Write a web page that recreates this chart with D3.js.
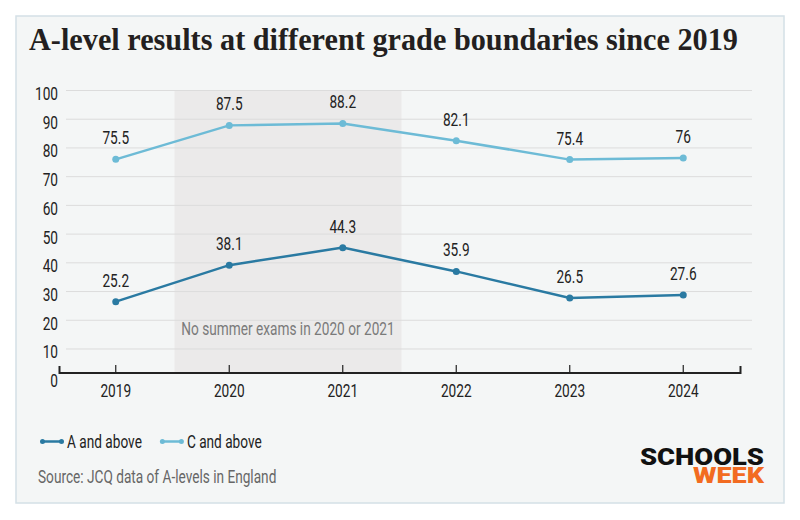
<!DOCTYPE html>
<html>
<head>
<meta charset="utf-8">
<script src="https://cdn.jsdelivr.net/npm/d3@7"></script>
<style>
  html, body { margin: 0; padding: 0; background: #fff; }
  svg text { font-family: Roboto, "DejaVu Sans", sans-serif; }
</style>
</head>
<body>
<div id="chart"></div>
<script>
// A-level results, % of entries at each grade boundary
const years = ['2019', '2020', '2021', '2022', '2023', '2024'];
const aAndAbove = [25.2, 38.1, 44.3, 35.9, 26.5, 27.6];
const cAndAbove = [75.5, 87.5, 88.2, 82.1, 75.4, 76];
const yTicks = [0, 10, 20, 30, 40, 50, 60, 70, 80, 90, 100];
const shadedYears = ['2020', '2021'];

const W = 800, H = 520;
const C_A = '#2a7aa2', C_C = '#6dbbd6';
const FS = '17.5px';
const NARROW = 0.78; // squeeze Roboto to look like the condensed face of the original

const svg = d3.select('#chart').append('svg')
  .attr('width', W).attr('height', H)
  .attr('viewBox', `0 0 ${W} ${H}`);

// panel
svg.append('rect')
  .attr('x', 16).attr('y', 16).attr('width', 768).attr('height', 487)
  .attr('fill', '#f4f6f6').attr('stroke', '#d4e0e6').attr('stroke-width', 1.5);

svg.append('text')
  .attr('x', 29).attr('y', 50)
  .style('font-family', '"Liberation Serif", "DejaVu Serif", serif')
  .style('font-weight', 700).style('font-size', '31px')
  .attr('fill', '#231f20')
  .attr('textLength', 709).attr('lengthAdjust', 'spacingAndGlyphs')
  .text('A-level results at different grade boundaries since 2019');

// scales: gridlines sit a few px lower than the plotted series in the original
const x = d3.scalePoint().domain(years).range([59, 740]).padding(0.5);
const step = x.step();
const yGrid = d3.scaleLinear().domain([0, 100]).range([377.7, 90.5]);
const y = d3.scaleLinear().domain([0, 100]).range([373, 90]);
const axisY = 373;

// shaded "no exams" band
const sx0 = x(shadedYears[0]) - step / 2 + 2;
const sx1 = x(shadedYears[1]) + step / 2 + 2;
svg.append('rect')
  .attr('x', sx0).attr('y', yGrid(100))
  .attr('width', sx1 - sx0).attr('height', axisY - yGrid(100))
  .attr('fill', '#ebeaea');

// gridlines
svg.append('g').selectAll('line').data(yTicks.filter(d => d > 0)).enter().append('line')
  .attr('x1', 66).attr('x2', 752)
  .attr('y1', d => yGrid(d)).attr('y2', d => yGrid(d))
  .attr('stroke', '#dcdcdc').attr('stroke-width', 1);

// y labels
svg.append('g').selectAll('text').data(yTicks).enter().append('text')
  .attr('class', 'narrow')
  .attr('x', 58).attr('y', d => yGrid(d) + 9.5)
  .attr('text-anchor', 'end')
  .attr('fill', '#222').style('font-size', FS)
  .text(d => d);

svg.append('text')
  .attr('class', 'narrow')
  .attr('x', (sx0 + sx1) / 2).attr('y', 335)
  .attr('text-anchor', 'middle')
  .attr('fill', '#7a7a7a').style('font-size', FS)
  .text('No summer exams in 2020 or 2021');

// x axis
const gx = svg.append('g').attr('transform', `translate(0,${axisY})`);
gx.append('path')
  .attr('d', `M59.5,-7V0H740.5V-7`)
  .attr('fill', 'none').attr('stroke', '#222').attr('stroke-width', 2);
gx.selectAll('line.tick').data(years).enter().append('line')
  .attr('class', 'tick')
  .attr('x1', d => x(d)).attr('x2', d => x(d))
  .attr('y1', -8).attr('y2', 0)
  .attr('stroke', '#222').attr('stroke-width', 1.2);
gx.selectAll('text').data(years).enter().append('text')
  .attr('class', 'narrow')
  .attr('x', d => x(d)).attr('y', 24)
  .attr('text-anchor', 'middle')
  .attr('fill', '#222').style('font-size', FS)
  .text(d => d);

// series
const series = [
  { name: 'A and above', values: aAndAbove, color: C_A },
  { name: 'C and above', values: cAndAbove, color: C_C }
];
const line = d3.line().x((d, i) => x(years[i])).y(d => y(d));

series.forEach(s => {
  const g = svg.append('g');
  g.append('path').datum(s.values)
    .attr('d', line).attr('fill', 'none')
    .attr('stroke', s.color).attr('stroke-width', 2.5);
  g.selectAll('circle').data(s.values).enter().append('circle')
    .attr('cx', (d, i) => x(years[i])).attr('cy', d => y(d))
    .attr('r', 3.5).attr('fill', s.color);
  g.selectAll('text').data(s.values).enter().append('text')
    .attr('class', 'narrow')
    .attr('x', (d, i) => x(years[i])).attr('y', d => y(d) - 15)
    .attr('text-anchor', 'middle')
    .attr('fill', '#222').style('font-size', FS)
    .text(d => d);
});

// legend
const legend = svg.append('g').attr('transform', 'translate(41,441.5)');
let lx = 0;
series.forEach(s => {
  const item = legend.append('g').attr('transform', `translate(${lx},0)`);
  item.append('line').attr('x1', 0).attr('x2', 22)
    .attr('stroke', s.color).attr('stroke-width', 2.5);
  item.append('circle').attr('cx', 1.5).attr('r', 2.5).attr('fill', s.color);
  item.append('circle').attr('cx', 20.5).attr('r', 2.5).attr('fill', s.color);
  const t = item.append('text').attr('x', 26).attr('y', 6)
    .attr('class', 'narrow')
    .attr('fill', '#222').style('font-size', FS)
    .text(s.name);
  lx += 26 + t.node().getComputedTextLength() * NARROW + 19;
});

svg.append('text')
  .attr('class', 'narrow')
  .attr('x', 38).attr('y', 483)
  .attr('fill', '#666').style('font-size', FS)
  .text('Source:  JCQ data of A-levels in England');

// condense the sans labels
svg.selectAll('text.narrow').each(function(){
  const len = this.getComputedTextLength();
  d3.select(this).attr('textLength', len * NARROW).attr('lengthAdjust', 'spacingAndGlyphs');
});

// logo
const logo = svg.append('g')
  .style('font-family', 'Lato, "DejaVu Sans", sans-serif')
  .style('font-weight', 900);
logo.append('text')
  .attr('x', 764).attr('y', 465).attr('text-anchor', 'end')
  .attr('fill', '#111').style('font-size', '23px')
  .attr('textLength', 124).attr('lengthAdjust', 'spacingAndGlyphs')
  .text('SCHOOLS');
logo.append('text')
  .attr('x', 764).attr('y', 483).attr('text-anchor', 'end')
  .attr('fill', '#f26b21').style('font-size', '22px')
  .attr('textLength', 71).attr('lengthAdjust', 'spacingAndGlyphs')
  .text('WEEK');
</script>
</body>
</html>
